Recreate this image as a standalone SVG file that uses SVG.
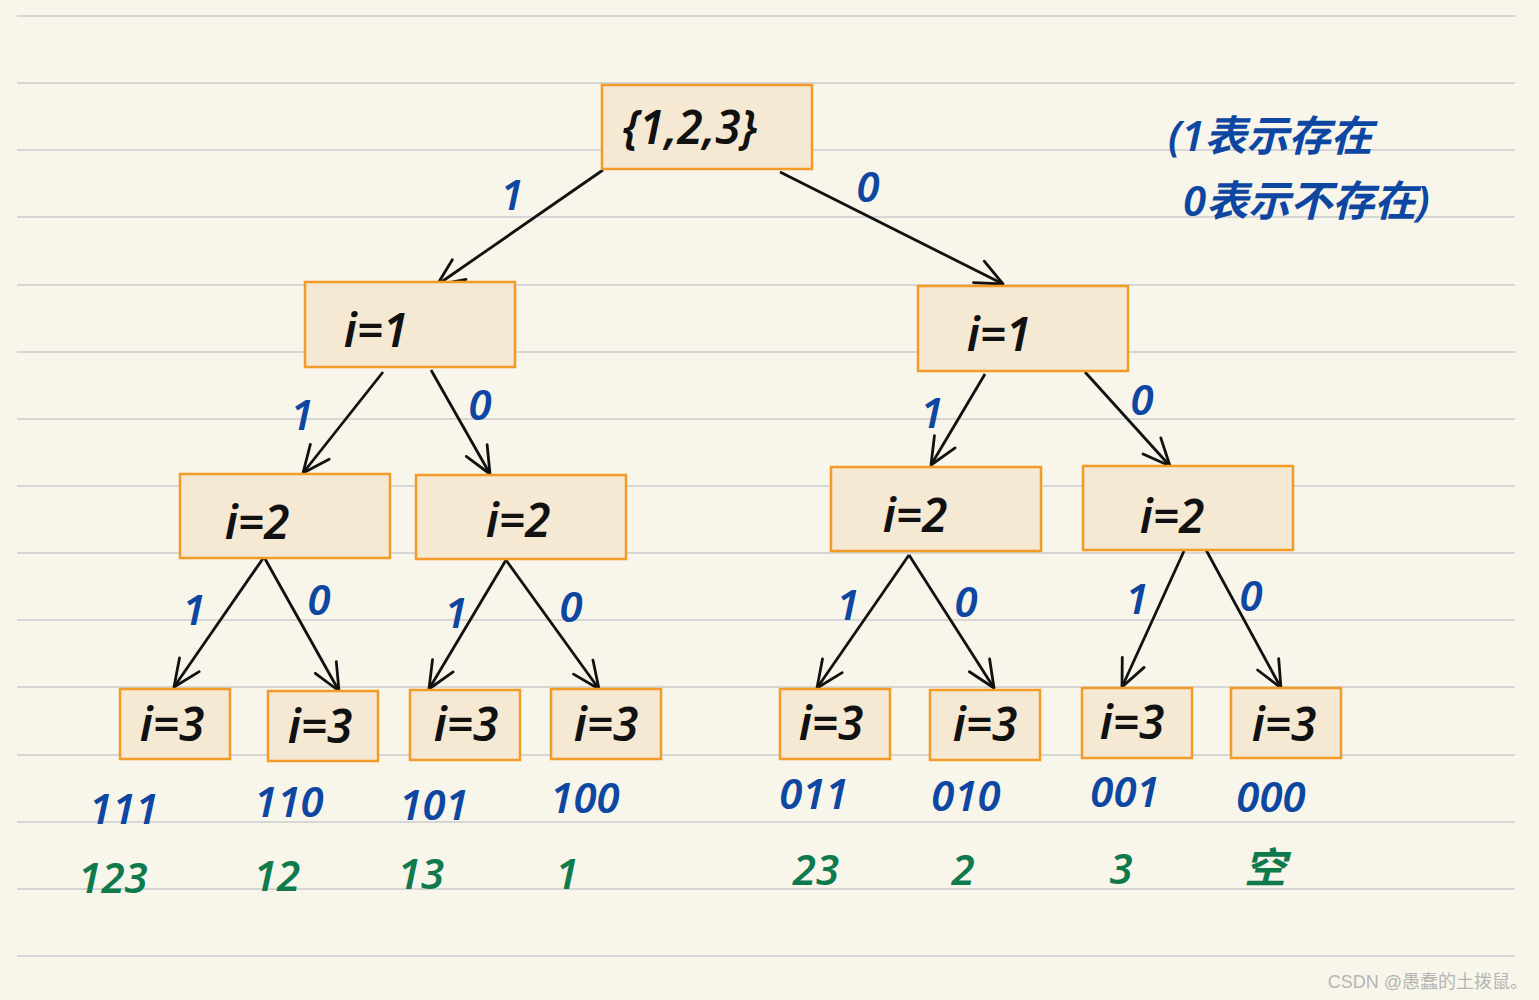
<svg xmlns="http://www.w3.org/2000/svg" width="1539" height="1000" viewBox="0 0 1539 1000">
<style>
.rule{stroke:#d6d6d6;stroke-width:2}
.box{fill:#f5e9d4;stroke:#f49a26;stroke-width:2.5}
.nt{font-family:"Noto Sans","DejaVu Sans",sans-serif;font-style:italic;font-weight:600;font-size:46px;fill:#111;text-anchor:middle}
.lt{font-family:"Noto Sans","DejaVu Sans",sans-serif;font-style:italic;font-weight:600;font-size:42px;fill:#0d47a1;text-anchor:middle}
.bt{font-family:"Noto Sans","DejaVu Sans",sans-serif;font-style:italic;font-weight:600;font-size:42px;fill:#0d47a1;text-anchor:middle}
.gt{font-family:"Noto Sans","Noto Sans CJK SC",sans-serif;font-style:italic;font-weight:600;font-size:42px;fill:#0f7a4c;text-anchor:middle}
.leg{font-family:"Noto Sans","Noto Sans CJK SC",sans-serif;font-style:italic;font-weight:600;font-size:42px;fill:#0d47a1}
.edge{stroke:#111;stroke-width:2.8;fill:none;marker-end:url(#arr)}
</style>
<defs>
<marker id="arr" viewBox="-30 -15 32 30" markerWidth="32" markerHeight="30" refX="0" refY="0" orient="auto" markerUnits="userSpaceOnUse">
<path d="M-27,-12 L0,0 L-27,12" fill="none" stroke="#111" stroke-width="2.8" stroke-linecap="round" stroke-linejoin="round"/>
</marker>
</defs>
<rect width="1539" height="1000" fill="#f8f5ea"/>
<g id="rules">
<line class="rule" x1="17" y1="16" x2="1515" y2="16"/>
<line class="rule" x1="17" y1="83" x2="1515" y2="83"/>
<line class="rule" x1="17" y1="150" x2="1515" y2="150"/>
<line class="rule" x1="17" y1="217" x2="1515" y2="217"/>
<line class="rule" x1="17" y1="285" x2="1515" y2="285"/>
<line class="rule" x1="17" y1="352" x2="1515" y2="352"/>
<line class="rule" x1="17" y1="419" x2="1515" y2="419"/>
<line class="rule" x1="17" y1="486" x2="1515" y2="486"/>
<line class="rule" x1="17" y1="553" x2="1515" y2="553"/>
<line class="rule" x1="17" y1="620" x2="1515" y2="620"/>
<line class="rule" x1="17" y1="687" x2="1515" y2="687"/>
<line class="rule" x1="17" y1="755" x2="1515" y2="755"/>
<line class="rule" x1="17" y1="822" x2="1515" y2="822"/>
<line class="rule" x1="17" y1="889" x2="1515" y2="889"/>
<line class="rule" x1="17" y1="956" x2="1515" y2="956"/>
</g>
<g id="connectors">
<line class="edge" x1="603" y1="170" x2="437" y2="285"/>
<line class="edge" x1="780" y1="172" x2="1003" y2="284"/>
<line class="edge" x1="383" y1="372" x2="303" y2="473"/>
<line class="edge" x1="431" y1="370" x2="490" y2="474"/>
<line class="edge" x1="985" y1="374" x2="931" y2="465"/>
<line class="edge" x1="1085" y1="372" x2="1170" y2="466"/>
<line class="edge" x1="264" y1="557" x2="174" y2="687"/>
<line class="edge" x1="264" y1="557" x2="339" y2="691"/>
<line class="edge" x1="506" y1="560" x2="429" y2="689"/>
<line class="edge" x1="506" y1="560" x2="599" y2="689"/>
<line class="edge" x1="909" y1="555" x2="817" y2="688"/>
<line class="edge" x1="909" y1="555" x2="994" y2="688"/>
<line class="edge" x1="1184" y1="551" x2="1122" y2="687"/>
<line class="edge" x1="1205" y1="548" x2="1281" y2="688"/>
</g>
<g id="edge-labels">
<text class="lt" x="512" y="210">1</text>
<text class="lt" x="868" y="202">0</text>
<text class="lt" x="302" y="430">1</text>
<text class="lt" x="480" y="420">0</text>
<text class="lt" x="932" y="428">1</text>
<text class="lt" x="1142" y="415">0</text>
<text class="lt" x="194" y="625">1</text>
<text class="lt" x="319" y="615">0</text>
<text class="lt" x="456" y="628">1</text>
<text class="lt" x="571" y="622">0</text>
<text class="lt" x="848" y="620">1</text>
<text class="lt" x="966" y="617">0</text>
<text class="lt" x="1137" y="614">1</text>
<text class="lt" x="1251" y="611">0</text>
</g>
<g id="n-root"><rect class="box" x="602" y="85" width="210" height="84"/><text class="nt" x="690" y="144">{1,2,3}</text></g>
<g id="n-l1a"><rect class="box" x="305" y="282" width="210" height="85"/><text class="nt" x="376" y="347">i=1</text></g>
<g id="n-l1b"><rect class="box" x="918" y="286" width="210" height="85"/><text class="nt" x="999" y="351">i=1</text></g>
<g id="n-l2a"><rect class="box" x="180" y="474" width="210" height="84"/><text class="nt" x="257" y="539">i=2</text></g>
<g id="n-l2b"><rect class="box" x="416" y="475" width="210" height="84"/><text class="nt" x="518" y="537">i=2</text></g>
<g id="n-l2c"><rect class="box" x="831" y="467" width="210" height="84"/><text class="nt" x="915" y="532">i=2</text></g>
<g id="n-l2d"><rect class="box" x="1083" y="466" width="210" height="84"/><text class="nt" x="1172" y="533">i=2</text></g>
<g id="n-l3a"><rect class="box" x="120" y="689" width="110" height="70"/><text class="nt" x="172" y="741">i=3</text></g>
<g id="n-l3b"><rect class="box" x="268" y="691" width="110" height="70"/><text class="nt" x="320" y="743">i=3</text></g>
<g id="n-l3c"><rect class="box" x="410" y="690" width="110" height="70"/><text class="nt" x="466" y="741">i=3</text></g>
<g id="n-l3d"><rect class="box" x="551" y="689" width="110" height="70"/><text class="nt" x="606" y="741">i=3</text></g>
<g id="n-l3e"><rect class="box" x="780" y="689" width="110" height="70"/><text class="nt" x="831" y="740">i=3</text></g>
<g id="n-l3f"><rect class="box" x="930" y="690" width="110" height="70"/><text class="nt" x="985" y="741">i=3</text></g>
<g id="n-l3g"><rect class="box" x="1082" y="688" width="110" height="70"/><text class="nt" x="1132" y="739">i=3</text></g>
<g id="n-l3h"><rect class="box" x="1231" y="688" width="110" height="70"/><text class="nt" x="1284" y="741">i=3</text></g>
<g id="bits">
<text class="bt" x="124" y="824">111</text>
<text class="bt" x="289" y="817">110</text>
<text class="bt" x="434" y="820">101</text>
<text class="bt" x="585" y="813">100</text>
<text class="bt" x="814" y="809">011</text>
<text class="bt" x="966" y="811">010</text>
<text class="bt" x="1125" y="807">001</text>
<text class="bt" x="1271" y="812">000</text>
</g>
<g id="subsets">
<text class="gt" x="113" y="893">123</text>
<text class="gt" x="277" y="891">12</text>
<text class="gt" x="421" y="889">13</text>
<text class="gt" x="567" y="889">1</text>
<text class="gt" x="816" y="885">23</text>
<text class="gt" x="963" y="885">2</text>
<text class="gt" x="1121" y="884">3</text>
<text class="gt" x="1265" y="883">空</text>
</g>
<g id="legend">
<text class="leg" x="1168" y="151">(1表示存在</text>
<text class="leg" x="1183" y="216">0表示不存在)</text>
</g>
<text x="1528" y="988" font-family="'Liberation Sans','Noto Sans CJK SC',sans-serif" font-size="18" fill="#b5b5b5" text-anchor="end">CSDN @愚蠢的土拨鼠。</text>
</svg>
